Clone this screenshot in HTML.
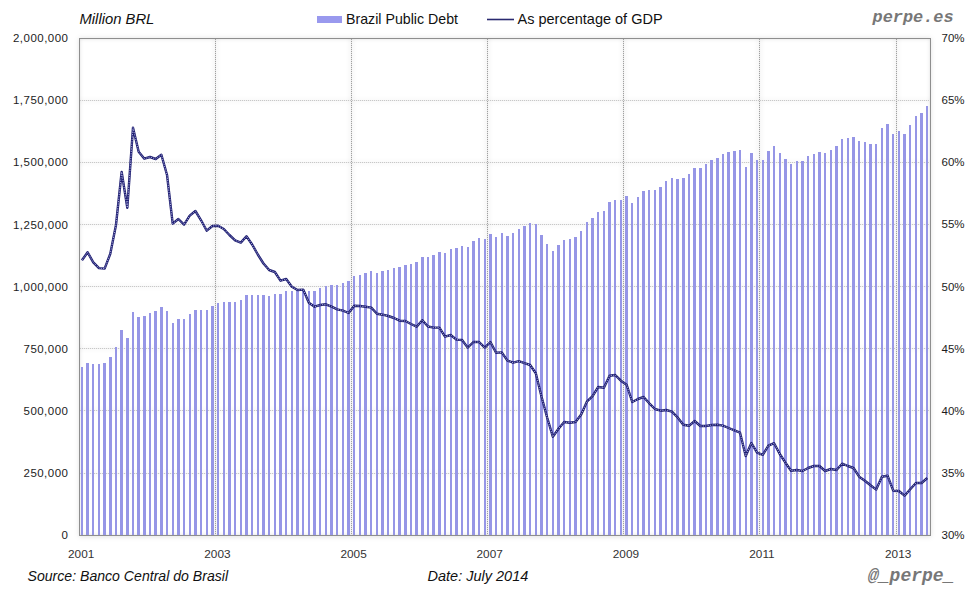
<!DOCTYPE html>
<html><head><meta charset="utf-8"><title>Brazil Public Debt</title>
<style>
html,body{margin:0;padding:0;background:#fff;}
body{width:980px;height:600px;overflow:hidden;position:relative;}
svg{position:absolute;left:0;top:0;display:block;}
text{font-family:"Liberation Sans",sans-serif;}
.mono{font-family:"Liberation Mono",monospace;}
</style></head><body>
<svg width="980" height="600" viewBox="0 0 980 600">
<defs>
<linearGradient id="shL" x1="0" y1="0" x2="1" y2="0"><stop offset="0" stop-color="#000" stop-opacity="0.10"/><stop offset="1" stop-color="#000" stop-opacity="0"/></linearGradient>
<linearGradient id="shT" x1="0" y1="0" x2="0" y2="1"><stop offset="0" stop-color="#000" stop-opacity="0.08"/><stop offset="1" stop-color="#000" stop-opacity="0"/></linearGradient>
<linearGradient id="oL" x1="1" y1="0" x2="0" y2="0"><stop offset="0" stop-color="#000" stop-opacity="0.05"/><stop offset="1" stop-color="#000" stop-opacity="0"/></linearGradient>
<linearGradient id="oT" x1="0" y1="1" x2="0" y2="0"><stop offset="0" stop-color="#000" stop-opacity="0.04"/><stop offset="1" stop-color="#000" stop-opacity="0"/></linearGradient>
<linearGradient id="oB" x1="0" y1="0" x2="0" y2="1"><stop offset="0" stop-color="#000" stop-opacity="0.05"/><stop offset="1" stop-color="#000" stop-opacity="0"/></linearGradient>
</defs>
<rect x="0" y="0" width="980" height="600" fill="#fff"/>

<filter id="blur3" x="-5%" y="-5%" width="110%" height="110%"><feGaussianBlur stdDeviation="2.5"/></filter>
<filter id="blur2" x="-5%" y="-5%" width="110%" height="110%"><feGaussianBlur stdDeviation="2"/></filter>
<rect x="79" y="38" width="852" height="499" fill="#000" fill-opacity="0.11" filter="url(#blur3)"/>
<rect x="80" y="39" width="850" height="496" fill="#fff"/>
<clipPath id="pc"><rect x="80" y="39" width="850" height="496"/></clipPath>
<g clip-path="url(#pc)"><rect x="76" y="35" width="858" height="504" fill="none" stroke="#000" stroke-opacity="0.2" stroke-width="6" filter="url(#blur2)"/></g>
<g clip-path="url(#pc)"><g filter="url(#blur2)">
<rect x="70" y="99" width="870" height="3" fill="#000" fill-opacity="0.035"/>
<rect x="70" y="161" width="870" height="3" fill="#000" fill-opacity="0.035"/>
<rect x="70" y="223" width="870" height="3" fill="#000" fill-opacity="0.035"/>
<rect x="70" y="285" width="870" height="3" fill="#000" fill-opacity="0.035"/>
<rect x="70" y="347" width="870" height="3" fill="#000" fill-opacity="0.035"/>
<rect x="70" y="409" width="870" height="3" fill="#000" fill-opacity="0.035"/>
<rect x="70" y="472" width="870" height="3" fill="#000" fill-opacity="0.035"/>
<rect x="214" y="30" width="3" height="515" fill="#000" fill-opacity="0.06"/>
<rect x="350" y="30" width="3" height="515" fill="#000" fill-opacity="0.06"/>
<rect x="486" y="30" width="3" height="515" fill="#000" fill-opacity="0.06"/>
<rect x="622" y="30" width="3" height="515" fill="#000" fill-opacity="0.06"/>
<rect x="758" y="30" width="3" height="515" fill="#000" fill-opacity="0.06"/>
<rect x="895" y="30" width="3" height="515" fill="#000" fill-opacity="0.06"/>
</g></g>
<line x1="80" y1="100.5" x2="930" y2="100.5" stroke="#f0f0f0" stroke-width="1"/>
<line x1="80" y1="100.5" x2="930" y2="100.5" stroke="#c8c8c8" stroke-width="1" stroke-dasharray="1 1"/>
<line x1="80" y1="162.5" x2="930" y2="162.5" stroke="#f0f0f0" stroke-width="1"/>
<line x1="80" y1="162.5" x2="930" y2="162.5" stroke="#c8c8c8" stroke-width="1" stroke-dasharray="1 1"/>
<line x1="80" y1="224.5" x2="930" y2="224.5" stroke="#f0f0f0" stroke-width="1"/>
<line x1="80" y1="224.5" x2="930" y2="224.5" stroke="#c8c8c8" stroke-width="1" stroke-dasharray="1 1"/>
<line x1="80" y1="286.5" x2="930" y2="286.5" stroke="#f0f0f0" stroke-width="1"/>
<line x1="80" y1="286.5" x2="930" y2="286.5" stroke="#c8c8c8" stroke-width="1" stroke-dasharray="1 1"/>
<line x1="80" y1="348.5" x2="930" y2="348.5" stroke="#f0f0f0" stroke-width="1"/>
<line x1="80" y1="348.5" x2="930" y2="348.5" stroke="#c8c8c8" stroke-width="1" stroke-dasharray="1 1"/>
<line x1="80" y1="410.5" x2="930" y2="410.5" stroke="#f0f0f0" stroke-width="1"/>
<line x1="80" y1="410.5" x2="930" y2="410.5" stroke="#c8c8c8" stroke-width="1" stroke-dasharray="1 1"/>
<line x1="80" y1="473.5" x2="930" y2="473.5" stroke="#f0f0f0" stroke-width="1"/>
<line x1="80" y1="473.5" x2="930" y2="473.5" stroke="#c8c8c8" stroke-width="1" stroke-dasharray="1 1"/>
<line x1="215.5" y1="39" x2="215.5" y2="535" stroke="#e8e8e8" stroke-width="1"/>
<line x1="215.5" y1="39" x2="215.5" y2="535" stroke="#a0a0a0" stroke-width="1" stroke-dasharray="1 1"/>
<line x1="351.5" y1="39" x2="351.5" y2="535" stroke="#e8e8e8" stroke-width="1"/>
<line x1="351.5" y1="39" x2="351.5" y2="535" stroke="#a0a0a0" stroke-width="1" stroke-dasharray="1 1"/>
<line x1="487.5" y1="39" x2="487.5" y2="535" stroke="#e8e8e8" stroke-width="1"/>
<line x1="487.5" y1="39" x2="487.5" y2="535" stroke="#a0a0a0" stroke-width="1" stroke-dasharray="1 1"/>
<line x1="623.5" y1="39" x2="623.5" y2="535" stroke="#e8e8e8" stroke-width="1"/>
<line x1="623.5" y1="39" x2="623.5" y2="535" stroke="#a0a0a0" stroke-width="1" stroke-dasharray="1 1"/>
<line x1="759.5" y1="39" x2="759.5" y2="535" stroke="#e8e8e8" stroke-width="1"/>
<line x1="759.5" y1="39" x2="759.5" y2="535" stroke="#a0a0a0" stroke-width="1" stroke-dasharray="1 1"/>
<line x1="896.5" y1="39" x2="896.5" y2="535" stroke="#e8e8e8" stroke-width="1"/>
<line x1="896.5" y1="39" x2="896.5" y2="535" stroke="#a0a0a0" stroke-width="1" stroke-dasharray="1 1"/>
<path d="M81 367h2V535h-2zM86 363h3V535h-3zM92 364h2V535h-2zM98 364h2V535h-2zM103 363h3V535h-3zM109 357h3V535h-3zM115 347h2V535h-2zM120 330h3V535h-3zM126 338h3V535h-3zM132 312h2V535h-2zM137 317h3V535h-3zM143 316h3V535h-3zM149 313h2V535h-2zM154 311h3V535h-3zM160 307h3V535h-3zM166 311h2V535h-2zM172 323h2V535h-2zM177 319h3V535h-3zM183 319h2V535h-2zM189 314h2V535h-2zM194 310h3V535h-3zM200 310h2V535h-2zM206 310h2V535h-2zM211 306h3V535h-3zM217 303h2V535h-2zM223 302h2V535h-2zM228 302h3V535h-3zM234 302h2V535h-2zM240 300h2V535h-2zM245 295h3V535h-3zM251 295h2V535h-2zM257 295h2V535h-2zM262 295h3V535h-3zM268 296h2V535h-2zM274 294h2V535h-2zM279 294h3V535h-3zM285 291h2V535h-2zM291 291h2V535h-2zM296 290h3V535h-3zM302 289h2V535h-2zM308 291h2V535h-2zM313 291h3V535h-3zM319 288h2V535h-2zM325 286h2V535h-2zM330 285h3V535h-3zM336 285h2V535h-2zM342 283h2V535h-2zM347 281h3V535h-3zM353 276h2V535h-2zM359 275h2V535h-2zM364 273h3V535h-3zM370 271h2V535h-2zM376 273h2V535h-2zM381 271h3V535h-3zM387 270h2V535h-2zM393 268h2V535h-2zM398 267h3V535h-3zM404 265h3V535h-3zM410 264h2V535h-2zM415 262h3V535h-3zM421 257h3V535h-3zM427 257h2V535h-2zM432 255h3V535h-3zM438 252h3V535h-3zM444 253h2V535h-2zM450 249h2V535h-2zM455 248h3V535h-3zM461 246h2V535h-2zM467 247h2V535h-2zM472 241h3V535h-3zM478 238h2V535h-2zM484 239h2V535h-2zM489 234h3V535h-3zM495 237h2V535h-2zM501 233h2V535h-2zM506 236h3V535h-3zM512 233h2V535h-2zM518 229h2V535h-2zM523 226h3V535h-3zM529 223h2V535h-2zM535 224h2V535h-2zM540 235h3V535h-3zM546 244h2V535h-2zM552 251h2V535h-2zM557 245h3V535h-3zM563 240h2V535h-2zM569 239h2V535h-2zM574 237h3V535h-3zM580 231h2V535h-2zM586 222h2V535h-2zM591 218h3V535h-3zM597 212h2V535h-2zM603 211h2V535h-2zM608 202h3V535h-3zM614 200h2V535h-2zM620 200h2V535h-2zM625 196h3V535h-3zM631 203h2V535h-2zM637 197h2V535h-2zM642 191h3V535h-3zM648 190h2V535h-2zM654 190h2V535h-2zM659 187h3V535h-3zM665 181h2V535h-2zM671 178h2V535h-2zM676 179h3V535h-3zM682 178h3V535h-3zM688 174h2V535h-2zM693 168h3V535h-3zM699 168h3V535h-3zM705 164h2V535h-2zM710 160h3V535h-3zM716 158h3V535h-3zM722 154h2V535h-2zM727 152h3V535h-3zM733 151h3V535h-3zM739 150h2V535h-2zM745 167h2V535h-2zM750 153h3V535h-3zM756 160h2V535h-2zM762 160h2V535h-2zM767 151h3V535h-3zM773 146h2V535h-2zM779 153h2V535h-2zM784 159h3V535h-3zM790 164h2V535h-2zM796 161h2V535h-2zM801 161h3V535h-3zM807 156h2V535h-2zM813 154h2V535h-2zM818 152h3V535h-3zM824 153h2V535h-2zM830 150h2V535h-2zM835 146h3V535h-3zM841 139h2V535h-2zM847 138h2V535h-2zM852 137h3V535h-3zM858 141h2V535h-2zM864 142h2V535h-2zM869 144h3V535h-3zM875 144h2V535h-2zM881 128h2V535h-2zM886 124h3V535h-3zM892 134h2V535h-2zM898 131h2V535h-2zM903 134h3V535h-3zM909 125h2V535h-2zM915 116h2V535h-2zM920 113h3V535h-3zM926 106h2V535h-2z" fill="#9696e6" shape-rendering="crispEdges"/>
<rect x="79.5" y="38.5" width="851" height="497" fill="none" stroke="#8e8e8e" stroke-width="1"/>
<polyline points="81.94,260.3 87.61,252.3 93.28,262.3 98.96,268.1 104.63,268.6 110.30,253.7 115.98,225.0 121.65,172 127.32,207.7 133.00,127.7 138.67,151.7 144.34,158.7 150.02,157 155.69,159 161.36,154.7 167.04,175 172.71,223.7 178.38,219 184.06,224.6 189.73,215.7 195.40,211 201.08,220.3 206.75,230.7 212.42,226 218.10,225.7 223.77,229 229.44,235 235.12,240.3 240.79,242.6 246.46,236.3 252.14,244.5 257.81,254.5 263.48,263.5 269.16,270 274.83,272 280.50,280.7 286.18,279 291.85,286.7 297.52,290 303.20,289.6 308.87,302.7 314.54,306.7 320.22,305 325.89,304.3 331.56,306.7 337.24,309.3 342.91,310.7 348.58,313 354.26,305.7 359.93,306 365.60,306.7 371.28,307.6 376.95,313.7 382.62,314.7 388.30,316 393.97,318 399.64,320.7 405.32,321 410.99,324 416.66,326.7 422.34,320.2 428.01,326.5 433.68,327.6 439.36,327.6 445.03,336.7 450.70,335 456.38,339.6 462.05,340 467.72,347.6 473.40,342 479.07,342 484.74,347.6 490.42,342 496.09,352.7 501.76,352.4 507.44,360.6 513.11,362.7 518.78,361.1 524.46,363.2 530.13,365 535.80,373.2 541.48,396.5 547.15,417.5 552.82,436.7 558.50,428.7 564.17,422 569.84,422.7 575.52,422 581.19,414.5 586.86,401.7 592.54,396.2 598.21,387 603.88,387.8 609.56,375.7 615.23,375 620.90,380.7 626.58,384.7 632.25,402 637.92,399 643.60,397 649.27,403.3 654.94,409 660.62,410.7 666.29,410 671.96,411.7 677.64,417.5 683.31,424.8 688.98,425.8 694.66,421 700.33,426 706.00,426 711.68,425 717.35,424.7 723.02,425.6 728.70,428 734.37,430.4 740.04,432.7 745.72,456 751.39,443 757.06,452.7 762.74,454.8 768.41,445.6 774.08,443.2 779.76,454 785.43,462.7 791.10,470.7 796.78,470 802.45,471 808.12,468 813.80,466 819.47,466 825.14,471 830.82,469 836.49,470 842.16,463.7 847.84,466 853.51,468 859.18,476.7 864.86,480.7 870.53,485.3 876.20,489.6 881.88,476.7 887.55,475.7 893.22,490.7 898.90,491 904.57,495.7 910.24,489.3 915.92,483 921.59,483 927.26,478" fill="none" stroke="#1e1e70" stroke-width="2.4" stroke-linejoin="round"/>
<polyline points="81.94,260.3 87.61,252.3 93.28,262.3 98.96,268.1 104.63,268.6 110.30,253.7 115.98,225.0 121.65,172 127.32,207.7 133.00,127.7 138.67,151.7 144.34,158.7 150.02,157 155.69,159 161.36,154.7 167.04,175 172.71,223.7 178.38,219 184.06,224.6 189.73,215.7 195.40,211 201.08,220.3 206.75,230.7 212.42,226 218.10,225.7 223.77,229 229.44,235 235.12,240.3 240.79,242.6 246.46,236.3 252.14,244.5 257.81,254.5 263.48,263.5 269.16,270 274.83,272 280.50,280.7 286.18,279 291.85,286.7 297.52,290 303.20,289.6 308.87,302.7 314.54,306.7 320.22,305 325.89,304.3 331.56,306.7 337.24,309.3 342.91,310.7 348.58,313 354.26,305.7 359.93,306 365.60,306.7 371.28,307.6 376.95,313.7 382.62,314.7 388.30,316 393.97,318 399.64,320.7 405.32,321 410.99,324 416.66,326.7 422.34,320.2 428.01,326.5 433.68,327.6 439.36,327.6 445.03,336.7 450.70,335 456.38,339.6 462.05,340 467.72,347.6 473.40,342 479.07,342 484.74,347.6 490.42,342 496.09,352.7 501.76,352.4 507.44,360.6 513.11,362.7 518.78,361.1 524.46,363.2 530.13,365 535.80,373.2 541.48,396.5 547.15,417.5 552.82,436.7 558.50,428.7 564.17,422 569.84,422.7 575.52,422 581.19,414.5 586.86,401.7 592.54,396.2 598.21,387 603.88,387.8 609.56,375.7 615.23,375 620.90,380.7 626.58,384.7 632.25,402 637.92,399 643.60,397 649.27,403.3 654.94,409 660.62,410.7 666.29,410 671.96,411.7 677.64,417.5 683.31,424.8 688.98,425.8 694.66,421 700.33,426 706.00,426 711.68,425 717.35,424.7 723.02,425.6 728.70,428 734.37,430.4 740.04,432.7 745.72,456 751.39,443 757.06,452.7 762.74,454.8 768.41,445.6 774.08,443.2 779.76,454 785.43,462.7 791.10,470.7 796.78,470 802.45,471 808.12,468 813.80,466 819.47,466 825.14,471 830.82,469 836.49,470 842.16,463.7 847.84,466 853.51,468 859.18,476.7 864.86,480.7 870.53,485.3 876.20,489.6 881.88,476.7 887.55,475.7 893.22,490.7 898.90,491 904.57,495.7 910.24,489.3 915.92,483 921.59,483 927.26,478" fill="none" stroke="#b8b8ea" stroke-width="0.9" stroke-dasharray="1.2 1.2" stroke-linejoin="round"/>
<text x="68.4" y="42.2" font-size="11.5" letter-spacing="0.47" fill="#1c1c1c" text-anchor="end">2,000,000</text>
<text x="68.4" y="104.3" font-size="11.5" letter-spacing="0.47" fill="#1c1c1c" text-anchor="end">1,750,000</text>
<text x="68.4" y="166.4" font-size="11.5" letter-spacing="0.47" fill="#1c1c1c" text-anchor="end">1,500,000</text>
<text x="68.4" y="228.6" font-size="11.5" letter-spacing="0.47" fill="#1c1c1c" text-anchor="end">1,250,000</text>
<text x="68.4" y="290.7" font-size="11.5" letter-spacing="0.47" fill="#1c1c1c" text-anchor="end">1,000,000</text>
<text x="68.4" y="352.8" font-size="11.5" letter-spacing="0.47" fill="#1c1c1c" text-anchor="end">750,000</text>
<text x="68.4" y="414.9" font-size="11.5" letter-spacing="0.47" fill="#1c1c1c" text-anchor="end">500,000</text>
<text x="68.4" y="477.1" font-size="11.5" letter-spacing="0.47" fill="#1c1c1c" text-anchor="end">250,000</text>
<text x="68.4" y="539.2" font-size="11.5" letter-spacing="0.47" fill="#1c1c1c" text-anchor="end">0</text>
<text x="941.5" y="42.0" font-size="11.5" fill="#1c1c1c">70%</text>
<text x="941.5" y="104.1" font-size="11.5" fill="#1c1c1c">65%</text>
<text x="941.5" y="166.2" font-size="11.5" fill="#1c1c1c">60%</text>
<text x="941.5" y="228.4" font-size="11.5" fill="#1c1c1c">55%</text>
<text x="941.5" y="290.5" font-size="11.5" fill="#1c1c1c">50%</text>
<text x="941.5" y="352.6" font-size="11.5" fill="#1c1c1c">45%</text>
<text x="941.5" y="414.8" font-size="11.5" fill="#1c1c1c">40%</text>
<text x="941.5" y="476.9" font-size="11.5" fill="#1c1c1c">35%</text>
<text x="941.5" y="539.0" font-size="11.5" fill="#1c1c1c">30%</text>
<text x="81.2" y="558" font-size="11.8" fill="#333" text-anchor="middle">2001</text>
<text x="217.4" y="558" font-size="11.8" fill="#333" text-anchor="middle">2003</text>
<text x="353.6" y="558" font-size="11.8" fill="#333" text-anchor="middle">2005</text>
<text x="489.7" y="558" font-size="11.8" fill="#333" text-anchor="middle">2007</text>
<text x="625.9" y="558" font-size="11.8" fill="#333" text-anchor="middle">2009</text>
<text x="762.0" y="558" font-size="11.8" fill="#333" text-anchor="middle">2011</text>
<text x="898.2" y="558" font-size="11.8" fill="#333" text-anchor="middle">2013</text>
<text x="79.5" y="24.2" font-size="14.8" font-style="italic" fill="#111">Million BRL</text>
<rect x="317" y="16" width="25" height="7" fill="#9999ee"/>
<text x="346" y="23.5" font-size="14.2" fill="#111">Brazil Public Debt</text>
<line x1="487" y1="19.5" x2="514" y2="19.5" stroke="#2a2a70" stroke-width="1.6"/>
<text x="517.5" y="23.5" font-size="14.5" fill="#111">As percentage of GDP</text>
<text class="mono" x="872.5" y="22.3" font-size="16.9" font-weight="bold" font-style="italic" fill="#777">perpe.es</text>
<text x="27.5" y="581" font-size="14.1" font-style="italic" fill="#111">Source: Banco Central do Brasil</text>
<text x="427.5" y="581" font-size="14.5" font-style="italic" fill="#111">Date: July 2014</text>
<text class="mono" x="868" y="580.6" font-size="18" font-weight="bold" font-style="italic" fill="#777">@_perpe_</text>
</svg></body></html>
